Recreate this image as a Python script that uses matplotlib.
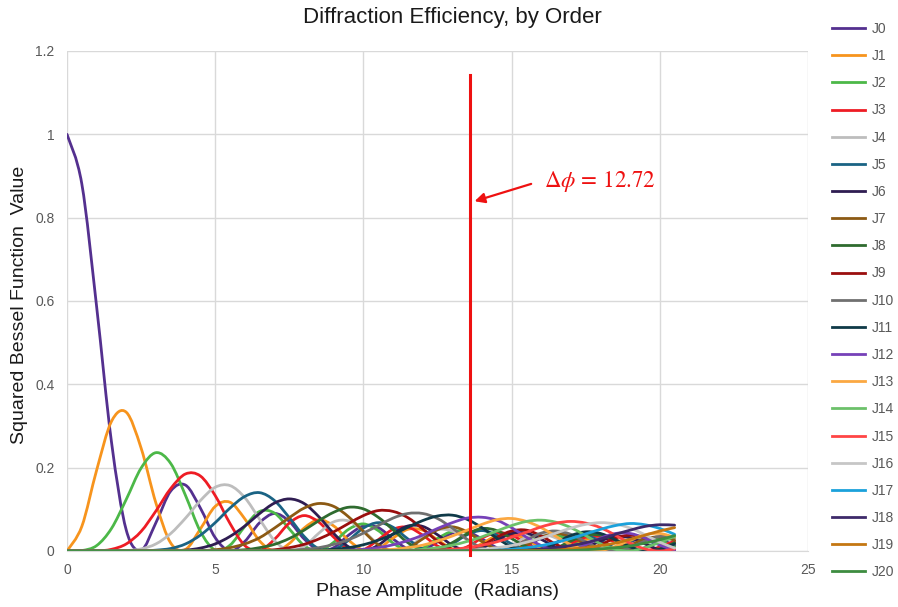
import matplotlib
matplotlib.use('Agg')
import matplotlib.pyplot as plt
from matplotlib.path import Path
from matplotlib.patches import PathPatch
from matplotlib.lines import Line2D

# phase amplitude samples (radians)
phase = [0.0, 0.5, 1.0, 1.5, 2.0, 2.5, 3.0, 3.5, 4.0, 4.5,
         5.0, 5.5, 6.0, 6.5, 7.0, 7.5, 8.0, 8.5, 9.0, 9.5,
         10.0, 10.5, 11.0, 11.5, 12.0, 12.5, 13.0, 13.5, 14.0, 14.5,
         15.0, 15.5, 16.0, 16.5, 17.0, 17.5, 18.0, 18.5, 19.0, 19.5,
         20.0, 20.5]

# squared Bessel function values, one list per diffraction order
j0 = [1.000, 0.881, 0.586, 0.262, 0.050, 0.002, 0.068, 0.144, 0.158, 0.103,
      0.032, 0.000, 0.023, 0.068, 0.090, 0.071, 0.029, 0.002, 0.008, 0.038,
      0.060, 0.056, 0.029, 0.005, 0.002, 0.022, 0.043, 0.046, 0.029, 0.008,
      0.000, 0.012, 0.031, 0.039, 0.029, 0.011, 0.000, 0.006, 0.022, 0.032,
      0.028, 0.013]
j1 = [0.000, 0.059, 0.194, 0.311, 0.333, 0.247, 0.115, 0.019, 0.004, 0.053,
      0.107, 0.117, 0.077, 0.024, 0.000, 0.018, 0.055, 0.075, 0.060, 0.026,
      0.002, 0.006, 0.031, 0.052, 0.050, 0.027, 0.005, 0.001, 0.018, 0.037,
      0.042, 0.028, 0.008, 0.000, 0.010, 0.027, 0.035, 0.028, 0.011, 0.000,
      0.004, 0.019]
j2 = [0.000, 0.001, 0.013, 0.054, 0.124, 0.199, 0.236, 0.210, 0.133, 0.047,
      0.002, 0.014, 0.059, 0.095, 0.091, 0.053, 0.013, 0.000, 0.021, 0.052,
      0.065, 0.049, 0.019, 0.001, 0.007, 0.030, 0.047, 0.044, 0.023, 0.004,
      0.002, 0.017, 0.035, 0.038, 0.025, 0.007, 0.000, 0.009, 0.025, 0.033,
      0.026, 0.010]
j3 = [0.000, 0.000, 0.000, 0.004, 0.017, 0.047, 0.096, 0.150, 0.185, 0.180,
      0.133, 0.066, 0.013, 0.001, 0.028, 0.067, 0.085, 0.069, 0.033, 0.004,
      0.003, 0.027, 0.052, 0.057, 0.038, 0.012, 0.000, 0.010, 0.031, 0.044,
      0.038, 0.018, 0.002, 0.003, 0.018, 0.033, 0.035, 0.021, 0.005, 0.000,
      0.010, 0.024]
j4 = [0.000, 0.000, 0.000, 0.000, 0.001, 0.005, 0.017, 0.042, 0.079, 0.121,
      0.153, 0.157, 0.128, 0.076, 0.025, 0.001, 0.011, 0.043, 0.070, 0.072,
      0.048, 0.017, 0.000, 0.009, 0.033, 0.051, 0.048, 0.027, 0.006, 0.001,
      0.014, 0.033, 0.041, 0.031, 0.012, 0.000, 0.005, 0.020, 0.033, 0.031,
      0.017, 0.003]
j5 = [0.000, 0.000, 0.000, 0.000, 0.000, 0.000, 0.002, 0.006, 0.017, 0.038,
      0.068, 0.103, 0.131, 0.140, 0.121, 0.080, 0.035, 0.005, 0.003, 0.026,
      0.055, 0.068, 0.057, 0.029, 0.005, 0.001, 0.017, 0.039, 0.049, 0.038,
      0.017, 0.002, 0.003, 0.019, 0.035, 0.037, 0.024, 0.007, 0.000, 0.008,
      0.023, 0.032]
j6 = [0.000, 0.000, 0.000, 0.000, 0.000, 0.000, 0.000, 0.001, 0.002, 0.007,
      0.017, 0.035, 0.060, 0.090, 0.115, 0.125, 0.114, 0.082, 0.042, 0.010,
      0.000, 0.014, 0.041, 0.060, 0.059, 0.039, 0.014, 0.000, 0.007, 0.026,
      0.042, 0.043, 0.028, 0.009, 0.000, 0.008, 0.024, 0.035, 0.032, 0.017,
      0.003, 0.001]
j7 = [0.000, 0.000, 0.000, 0.000, 0.000, 0.000, 0.000, 0.000, 0.000, 0.001,
      0.003, 0.008, 0.017, 0.032, 0.055, 0.080, 0.103, 0.114, 0.107, 0.082,
      0.047, 0.015, 0.000, 0.007, 0.029, 0.051, 0.058, 0.046, 0.023, 0.004,
      0.001, 0.015, 0.033, 0.042, 0.035, 0.017, 0.003, 0.001, 0.014, 0.029,
      0.034, 0.026]
j8 = [0.000, 0.000, 0.000, 0.000, 0.000, 0.000, 0.000, 0.000, 0.000, 0.000,
      0.000, 0.001, 0.003, 0.008, 0.016, 0.030, 0.050, 0.073, 0.093, 0.105,
      0.101, 0.081, 0.051, 0.020, 0.002, 0.003, 0.020, 0.041, 0.054, 0.049,
      0.030, 0.010, 0.000, 0.007, 0.024, 0.038, 0.038, 0.026, 0.009, 0.000,
      0.005, 0.020]
j9 = [0.000, 0.000, 0.000, 0.000, 0.000, 0.000, 0.000, 0.000, 0.000, 0.000,
      0.000, 0.000, 0.000, 0.001, 0.003, 0.008, 0.016, 0.029, 0.046, 0.066,
      0.085, 0.097, 0.095, 0.080, 0.053, 0.024, 0.004, 0.001, 0.013, 0.033,
      0.048, 0.050, 0.036, 0.016, 0.002, 0.002, 0.015, 0.031, 0.038, 0.031,
      0.016, 0.003]
j10 = [0.000, 0.000, 0.000, 0.000, 0.000, 0.000, 0.000, 0.000, 0.000, 0.000,
       0.000, 0.000, 0.000, 0.000, 0.001, 0.002, 0.004, 0.008, 0.016, 0.027,
       0.043, 0.061, 0.079, 0.090, 0.090, 0.078, 0.055, 0.028, 0.007, 0.000,
       0.008, 0.026, 0.043, 0.048, 0.040, 0.022, 0.005, 0.000, 0.008, 0.024,
       0.035, 0.034]
j11 = [0.000, 0.000, 0.000, 0.000, 0.000, 0.000, 0.000, 0.000, 0.000, 0.000,
       0.000, 0.000, 0.000, 0.000, 0.000, 0.000, 0.001, 0.002, 0.004, 0.008,
       0.015, 0.026, 0.040, 0.057, 0.073, 0.084, 0.086, 0.076, 0.056, 0.031,
       0.010, 0.000, 0.005, 0.020, 0.037, 0.046, 0.042, 0.027, 0.010, 0.000,
       0.004, 0.017]
j12 = [0.000, 0.000, 0.000, 0.000, 0.000, 0.000, 0.000, 0.000, 0.000, 0.000,
       0.000, 0.000, 0.000, 0.000, 0.000, 0.000, 0.000, 0.000, 0.001, 0.002,
       0.004, 0.008, 0.015, 0.025, 0.038, 0.054, 0.068, 0.079, 0.081, 0.074,
       0.056, 0.033, 0.013, 0.001, 0.002, 0.015, 0.031, 0.042, 0.042, 0.031,
       0.014, 0.002]
j13 = [0.000, 0.000, 0.000, 0.000, 0.000, 0.000, 0.000, 0.000, 0.000, 0.000,
       0.000, 0.000, 0.000, 0.000, 0.000, 0.000, 0.000, 0.000, 0.000, 0.000,
       0.001, 0.002, 0.004, 0.008, 0.014, 0.024, 0.036, 0.050, 0.064, 0.075,
       0.078, 0.071, 0.056, 0.035, 0.015, 0.002, 0.001, 0.011, 0.026, 0.039,
       0.042, 0.033]
j14 = [0.000, 0.000, 0.000, 0.000, 0.000, 0.000, 0.000, 0.000, 0.000, 0.000,
       0.000, 0.000, 0.000, 0.000, 0.000, 0.000, 0.000, 0.000, 0.000, 0.000,
       0.000, 0.000, 0.001, 0.002, 0.004, 0.008, 0.014, 0.023, 0.034, 0.048,
       0.061, 0.071, 0.074, 0.069, 0.056, 0.037, 0.017, 0.004, 0.000, 0.008,
       0.021, 0.035]
j15 = [0.000, 0.000, 0.000, 0.000, 0.000, 0.000, 0.000, 0.000, 0.000, 0.000,
       0.000, 0.000, 0.000, 0.000, 0.000, 0.000, 0.000, 0.000, 0.000, 0.000,
       0.000, 0.000, 0.000, 0.000, 0.001, 0.002, 0.004, 0.008, 0.014, 0.022,
       0.033, 0.045, 0.058, 0.067, 0.071, 0.067, 0.056, 0.038, 0.019, 0.005,
       0.000, 0.005]
j16 = [0.000, 0.000, 0.000, 0.000, 0.000, 0.000, 0.000, 0.000, 0.000, 0.000,
       0.000, 0.000, 0.000, 0.000, 0.000, 0.000, 0.000, 0.000, 0.000, 0.000,
       0.000, 0.000, 0.000, 0.000, 0.000, 0.000, 0.001, 0.002, 0.004, 0.008,
       0.013, 0.021, 0.031, 0.043, 0.055, 0.064, 0.068, 0.065, 0.055, 0.039,
       0.021, 0.007]
j17 = [0.000, 0.000, 0.000, 0.000, 0.000, 0.000, 0.000, 0.000, 0.000, 0.000,
       0.000, 0.000, 0.000, 0.000, 0.000, 0.000, 0.000, 0.000, 0.000, 0.000,
       0.000, 0.000, 0.000, 0.000, 0.000, 0.000, 0.000, 0.001, 0.001, 0.002,
       0.004, 0.008, 0.013, 0.021, 0.030, 0.041, 0.052, 0.061, 0.066, 0.063,
       0.054, 0.040]
j18 = [0.000, 0.000, 0.000, 0.000, 0.000, 0.000, 0.000, 0.000, 0.000, 0.000,
       0.000, 0.000, 0.000, 0.000, 0.000, 0.000, 0.000, 0.000, 0.000, 0.000,
       0.000, 0.000, 0.000, 0.000, 0.000, 0.000, 0.000, 0.000, 0.000, 0.001,
       0.001, 0.002, 0.004, 0.008, 0.013, 0.020, 0.029, 0.040, 0.050, 0.059,
       0.063, 0.062]
j19 = [0.000, 0.000, 0.000, 0.000, 0.000, 0.000, 0.000, 0.000, 0.000, 0.000,
       0.000, 0.000, 0.000, 0.000, 0.000, 0.000, 0.000, 0.000, 0.000, 0.000,
       0.000, 0.000, 0.000, 0.000, 0.000, 0.000, 0.000, 0.000, 0.000, 0.000,
       0.000, 0.001, 0.001, 0.002, 0.005, 0.008, 0.013, 0.019, 0.028, 0.038,
       0.048, 0.056]
j20 = [0.000, 0.000, 0.000, 0.000, 0.000, 0.000, 0.000, 0.000, 0.000, 0.000,
       0.000, 0.000, 0.000, 0.000, 0.000, 0.000, 0.000, 0.000, 0.000, 0.000,
       0.000, 0.000, 0.000, 0.000, 0.000, 0.000, 0.000, 0.000, 0.000, 0.000,
       0.000, 0.000, 0.000, 0.001, 0.001, 0.003, 0.005, 0.008, 0.012, 0.019,
       0.027, 0.037]

orders = [j0, j1, j2, j3, j4, j5, j6, j7, j8, j9, j10,
          j11, j12, j13, j14, j15, j16, j17, j18, j19, j20]
labels = ['J%d' % n for n in range(len(orders))]

# marker position and its annotation
delta_phi_x = 13.6
delta_phi_label = r'$\Delta\phi\,=\,12.72$'

colors = ['#54308f', '#f7941d', '#4cb848', '#ee1c24', '#bdbdbd', '#1a6384',
          '#2f1d52', '#8c5a14', '#2f6b2f', '#9a0e0e', '#707070', '#0f3a48',
          '#7641b8', '#fba842', '#6cc16a', '#ff4545', '#c6c6c6', '#1ba1db',
          '#3e2a6a', '#c47712', '#3d8c40']


def smooth_path(xs, ys):
    # spreadsheet-style smoothed line: cubic Bezier segments through every point
    n = len(xs)
    verts = [(xs[0], ys[0])]
    codes = [Path.MOVETO]
    for i in range(n - 1):
        i0, i2 = max(i - 1, 0), min(i + 2, n - 1)
        c1 = (xs[i] + (xs[i + 1] - xs[i0]) / 6, ys[i] + (ys[i + 1] - ys[i0]) / 6)
        c2 = (xs[i + 1] - (xs[i2] - xs[i]) / 6, ys[i + 1] - (ys[i2] - ys[i]) / 6)
        verts += [c1, c2, (xs[i + 1], ys[i + 1])]
        codes += [Path.CURVE4] * 3
    return Path(verts, codes)


plt.rcParams['font.family'] = ['Liberation Sans', 'DejaVu Sans']
plt.rcParams['mathtext.fontset'] = 'stix'

fig = plt.figure(figsize=(8.98, 6.07), dpi=100)
ax = fig.add_axes([67 / 898, 1 - 551 / 607, 741 / 898, 500 / 607])

handles = []
for vals, lab, col in zip(orders, labels, colors):
    ax.add_patch(PathPatch(smooth_path(phase, vals), fill=False, edgecolor=col,
                           lw=2.0, joinstyle='round', capstyle='round'))
    handles.append(Line2D([], [], color=col, lw=2.0, label=lab))

ax.set_xlim(0, 25)
ax.set_ylim(0, 1.2)
ax.set_xticks([0, 5, 10, 15, 20, 25])
ax.set_yticks([0, 0.2, 0.4, 0.6, 0.8, 1.0, 1.2])
ax.set_yticklabels(['0', '0.2', '0.4', '0.6', '0.8', '1', '1.2'])
ax.tick_params(length=0, labelsize=10, labelcolor='#595959', pad=9)
ax.grid(True, color='#d9d9d9', lw=1.0)
ax.set_axisbelow(True)
for side in ['top', 'right', 'left']:
    ax.spines[side].set_visible(False)
ax.spines['bottom'].set_color('#d9d9d9')

# vertical marker line with arrow and label
ax.plot([delta_phi_x, delta_phi_x], [-0.01, 1.142], color='#ee1111', lw=2.2,
        clip_on=False, zorder=5)
ax.annotate('', xy=(delta_phi_x + 0.06, 0.8375), xytext=(15.75, 0.883),
            arrowprops=dict(arrowstyle='-|>', color='#ee1111', lw=1.6,
                            mutation_scale=15), zorder=6)
ax.text(16.1, 0.888, delta_phi_label, color='#ee1111', fontsize=16.5,
        ha='left', va='center', zorder=6)

fig.text(452 / 898, 1 - 18 / 607, 'Diffraction Efficiency, by Order',
         fontsize=16, color='#1a1a1a', ha='center', va='center')
fig.text(438 / 898, 1 - 592 / 607, 'Phase Amplitude  (Radians)',
         fontsize=14, color='#1a1a1a', ha='center', va='center')
fig.text(20 / 898, 1 - 305 / 607, 'Squared Bessel Function  Value',
         fontsize=14, color='#1a1a1a', ha='center', va='center',
         rotation=90)

leg = fig.legend(handles=handles, loc='upper left',
                 bbox_to_anchor=(832 / 898, 1 - 22 / 607),
                 frameon=False, fontsize=10, labelcolor='#595959',
                 handlelength=2.4, handletextpad=0.45, labelspacing=0.948,
                 borderpad=0, borderaxespad=0)

fig.savefig('out.png', dpi=100)
